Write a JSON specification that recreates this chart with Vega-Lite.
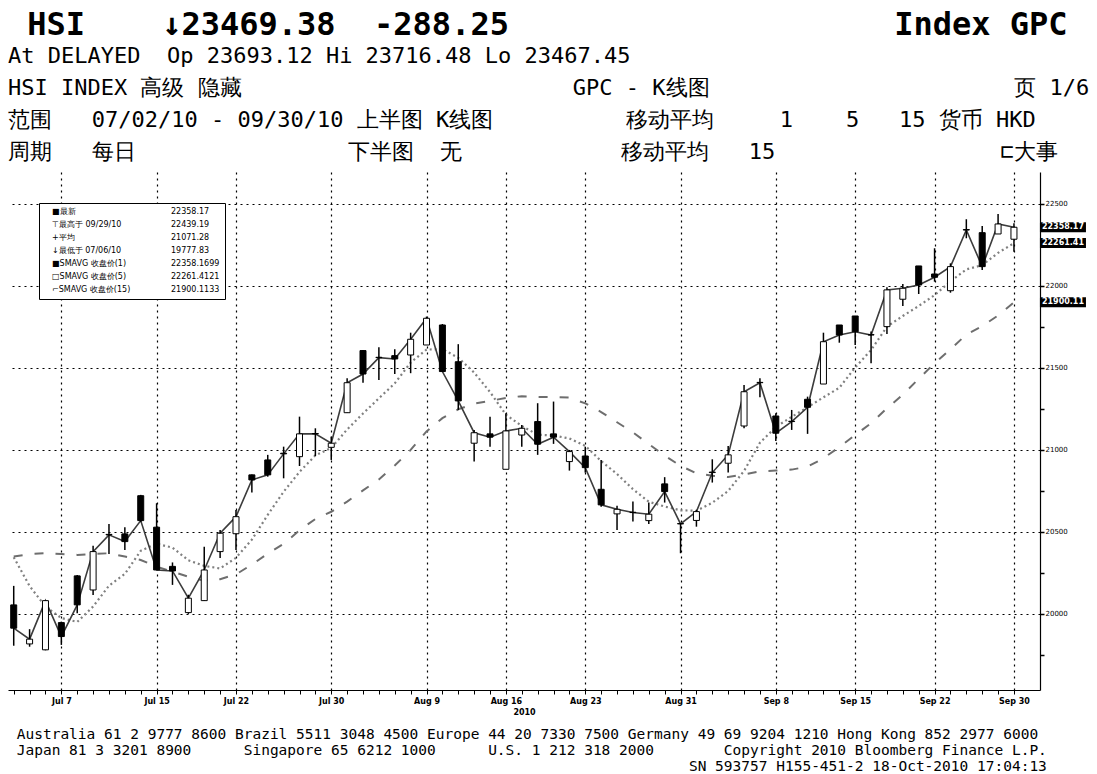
{
  "$schema": "https://vega.github.io/schema/vega-lite/v6.json",
  "padding": {"left": 8, "top": 9, "right": 0, "bottom": 0},
  "background": "white",
  "config": {"view": {"stroke": null}, "font": "DejaVu Sans Mono"},
  "datasets": {
    "hsi": [
      {"date":"Jul 2","open":20055,"high":20171,"low":19806,"close":19913,"ma5":20346,"ma15":20350},
      {"date":"Jul 5","open":19817,"high":19907,"low":19800,"close":19846,"ma5":20170,"ma15":20365},
      {"date":"Jul 6","open":19781,"high":20085,"low":19778,"close":20081,"ma5":20045,"ma15":20370},
      {"date":"Jul 7","open":19947,"high":19953,"low":19811,"close":19862,"ma5":19975,"ma15":20365},
      {"date":"Jul 8","open":20232,"high":20238,"low":20004,"close":20055,"ma5":19951,"ma15":20360},
      {"date":"Jul 9","open":20146,"high":20415,"low":20116,"close":20380,"ma5":20045,"ma15":20365},
      {"date":"Jul 12","open":20485,"high":20549,"low":20366,"close":20482,"ma5":20172,"ma15":20370},
      {"date":"Jul 13","open":20488,"high":20529,"low":20390,"close":20441,"ma5":20244,"ma15":20350},
      {"date":"Jul 14","open":20721,"high":20726,"low":20561,"close":20569,"ma5":20385,"ma15":20329},
      {"date":"Jul 15","open":20529,"high":20675,"low":20268,"close":20268,"ma5":20428,"ma15":20288},
      {"date":"Jul 16","open":20290,"high":20314,"low":20177,"close":20262,"ma5":20404,"ma15":20258},
      {"date":"Jul 19","open":20008,"high":20117,"low":20000,"close":20096,"ma5":20327,"ma15":20227},
      {"date":"Jul 20","open":20081,"high":20410,"low":20079,"close":20268,"ma5":20293,"ma15":20203},
      {"date":"Jul 21","open":20380,"high":20512,"low":20341,"close":20492,"ma5":20277,"ma15":20212},
      {"date":"Jul 22","open":20489,"high":20634,"low":20390,"close":20593,"ma5":20342,"ma15":20241},
      {"date":"Jul 23","open":20848,"high":20850,"low":20740,"close":20817,"ma5":20453,"ma15":20301},
      {"date":"Jul 26","open":20939,"high":20970,"low":20837,"close":20848,"ma5":20604,"ma15":20368},
      {"date":"Jul 27","open":20980,"high":21020,"low":20827,"close":20976,"ma5":20745,"ma15":20427},
      {"date":"Jul 28","open":20959,"high":21203,"low":20902,"close":21098,"ma5":20866,"ma15":20510},
      {"date":"Jul 29","open":21100,"high":21132,"low":20963,"close":21098,"ma5":20967,"ma15":20579},
      {"date":"Jul 30","open":21016,"high":21081,"low":20939,"close":21041,"ma5":21012,"ma15":20623},
      {"date":"Aug 2","open":21227,"high":21437,"low":21226,"close":21410,"ma5":21125,"ma15":20685},
      {"date":"Aug 3","open":21606,"high":21610,"low":21410,"close":21463,"ma5":21222,"ma15":20753},
      {"date":"Aug 4","open":21565,"high":21626,"low":21427,"close":21563,"ma5":21315,"ma15":20820},
      {"date":"Aug 5","open":21575,"high":21614,"low":21463,"close":21555,"ma5":21406,"ma15":20905},
      {"date":"Aug 6","open":21579,"high":21715,"low":21468,"close":21675,"ma5":21533,"ma15":21000},
      {"date":"Aug 9","open":21640,"high":21813,"low":21640,"close":21803,"ma5":21612,"ma15":21113},
      {"date":"Aug 10","open":21762,"high":21768,"low":21476,"close":21478,"ma5":21615,"ma15":21194},
      {"date":"Aug 11","open":21538,"high":21645,"low":21244,"close":21299,"ma5":21562,"ma15":21248},
      {"date":"Aug 12","open":21041,"high":21122,"low":20929,"close":21105,"ma5":21472,"ma15":21282},
      {"date":"Aug 13","open":21098,"high":21203,"low":21020,"close":21078,"ma5":21353,"ma15":21299},
      {"date":"Aug 16","open":20882,"high":21224,"low":20882,"close":21116,"ma5":21215,"ma15":21317},
      {"date":"Aug 17","open":21091,"high":21152,"low":21020,"close":21132,"ma5":21146,"ma15":21328},
      {"date":"Aug 18","open":21173,"high":21285,"low":20970,"close":21035,"ma5":21093,"ma15":21323},
      {"date":"Aug 19","open":21098,"high":21295,"low":21037,"close":21078,"ma5":21088,"ma15":21322},
      {"date":"Aug 20","open":20929,"high":21000,"low":20874,"close":20990,"ma5":21070,"ma15":21319},
      {"date":"Aug 23","open":20963,"high":21020,"low":20862,"close":20892,"ma5":21025,"ma15":21284},
      {"date":"Aug 24","open":20760,"high":20939,"low":20654,"close":20665,"ma5":20932,"ma15":21231},
      {"date":"Aug 25","open":20610,"high":20659,"low":20512,"close":20638,"ma5":20853,"ma15":21169},
      {"date":"Aug 26","open":20620,"high":20685,"low":20563,"close":20618,"ma5":20761,"ma15":21107},
      {"date":"Aug 27","open":20569,"high":20679,"low":20549,"close":20608,"ma5":20684,"ma15":21036},
      {"date":"Aug 30","open":20793,"high":20834,"low":20679,"close":20746,"ma5":20655,"ma15":20965},
      {"date":"Aug 31","open":20551,"high":20555,"low":20370,"close":20549,"ma5":20632,"ma15":20903},
      {"date":"Sep 1","open":20570,"high":20634,"low":20532,"close":20624,"ma5":20629,"ma15":20858},
      {"date":"Sep 2","open":20865,"high":20943,"low":20801,"close":20862,"ma5":20678,"ma15":20842},
      {"date":"Sep 3","open":20919,"high":21024,"low":20862,"close":20970,"ma5":20750,"ma15":20835},
      {"date":"Sep 6","open":21146,"high":21396,"low":21132,"close":21355,"ma5":20872,"ma15":20851},
      {"date":"Sep 7","open":21412,"high":21437,"low":21321,"close":21410,"ma5":21044,"ma15":20869},
      {"date":"Sep 8","open":21207,"high":21224,"low":21055,"close":21102,"ma5":21140,"ma15":20874},
      {"date":"Sep 9","open":21175,"high":21244,"low":21122,"close":21173,"ma5":21202,"ma15":20880},
      {"date":"Sep 10","open":21309,"high":21325,"low":21098,"close":21260,"ma5":21260,"ma15":20898},
      {"date":"Sep 13","open":21402,"high":21715,"low":21402,"close":21660,"ma5":21321,"ma15":20949},
      {"date":"Sep 14","open":21762,"high":21762,"low":21654,"close":21701,"ma5":21379,"ma15":21018},
      {"date":"Sep 15","open":21817,"high":21817,"low":21640,"close":21721,"ma5":21503,"ma15":21091},
      {"date":"Sep 16","open":21703,"high":21722,"low":21529,"close":21701,"ma5":21609,"ma15":21163},
      {"date":"Sep 17","open":21752,"high":21992,"low":21707,"close":21976,"ma5":21752,"ma15":21254},
      {"date":"Sep 20","open":21919,"high":22012,"low":21878,"close":21986,"ma5":21817,"ma15":21337},
      {"date":"Sep 21","open":22122,"high":22122,"low":21951,"close":22006,"ma5":21878,"ma15":21434},
      {"date":"Sep 22","open":22073,"high":22230,"low":22026,"close":22053,"ma5":21944,"ma15":21529},
      {"date":"Sep 24","open":21971,"high":22138,"low":21959,"close":22118,"ma5":22028,"ma15":21613},
      {"date":"Sep 27","open":22344,"high":22407,"low":22291,"close":22341,"ma5":22101,"ma15":21704},
      {"date":"Sep 28","open":22325,"high":22366,"low":22098,"close":22118,"ma5":22127,"ma15":21755},
      {"date":"Sep 29","open":22317,"high":22439,"low":22317,"close":22378,"ma5":22202,"ma15":21820},
      {"date":"Sep 30","open":22285,"high":22382,"low":22209,"close":22358,"ma5":22261,"ma15":21900}
    ],
    "legendRows": [
      {"entry": "■最新"},
      {"entry": "⊤最高于 09/29/10"},
      {"entry": "+平均"},
      {"entry": "↓最低于 07/06/10"},
      {"entry": "■SMAVG 收盘价(1)"},
      {"entry": "□SMAVG 收盘价(5)"},
      {"entry": "⌐SMAVG 收盘价(15)"},
      {"entry": "22358.17"},
      {"entry": "22439.19"},
      {"entry": "21071.28"},
      {"entry": "19777.83"},
      {"entry": "22358.1699"},
      {"entry": "22261.4121"},
      {"entry": "21900.1133"}
    ],
    "tags": [
      {"tag": "22358.17", "value": 22358.17},
      {"tag": "22261.41", "value": 22261.41},
      {"tag": "21900.11", "value": 21900.11}
    ]
  },
  "title": {
    "text": [
      "\u200b\u00a0Australia 61 2 9777 8600 Brazil 5511 3048 4500 Europe 44 20 7330 7500 Germany 49 69 9204 1210 Hong Kong 852 2977 6000",
      "\u200b\u00a0Japan 81 3 3201 8900\u00a0\u00a0\u00a0\u00a0\u00a0\u00a0Singapore 65 6212 1000\u00a0\u00a0\u00a0\u00a0\u00a0\u00a0U.S. 1 212 318 2000\u00a0\u00a0\u00a0\u00a0\u00a0\u00a0\u00a0\u00a0Copyright 2010 Bloomberg Finance L.P.",
      "\u200b\u00a0\u00a0\u00a0\u00a0\u00a0\u00a0\u00a0\u00a0\u00a0\u00a0\u00a0\u00a0\u00a0\u00a0\u00a0\u00a0\u00a0\u00a0\u00a0\u00a0\u00a0\u00a0\u00a0\u00a0\u00a0\u00a0\u00a0\u00a0\u00a0\u00a0\u00a0\u00a0\u00a0\u00a0\u00a0\u00a0\u00a0\u00a0\u00a0\u00a0\u00a0\u00a0\u00a0\u00a0\u00a0\u00a0\u00a0\u00a0\u00a0\u00a0\u00a0\u00a0\u00a0\u00a0\u00a0\u00a0\u00a0\u00a0\u00a0\u00a0\u00a0\u00a0\u00a0\u00a0\u00a0\u00a0\u00a0\u00a0\u00a0\u00a0\u00a0\u00a0\u00a0\u00a0\u00a0\u00a0\u00a0\u00a0SN 593757 H155-451-2 18-Oct-2010 17:04:13"
    ],
    "orient": "bottom",
    "anchor": "start",
    "font": "DejaVu Sans Mono",
    "fontSize": 14.5,
    "fontWeight": "normal",
    "lineHeight": 16,
    "offset": 12,
    "color": "black"
  },
  "vconcat": [
    {
      "width": 1032,
      "height": 518,
      "title": {
        "text": "\u200b\u00a0HSI\u00a0\u00a0\u00a0\u00a0↓23469.38\u00a0\u00a0-288.25\u00a0\u00a0\u00a0\u00a0\u00a0\u00a0\u00a0\u00a0\u00a0\u00a0\u00a0\u00a0\u00a0\u00a0\u00a0\u00a0\u00a0\u00a0\u00a0\u00a0Index GPC",
        "subtitle": [
          "\u200bAt DELAYED\u00a0\u00a0Op 23693.12 Hi 23716.48 Lo 23467.45",
          "HSI INDEX\u00a0高级\u00a0隐藏\u00a0\u00a0\u00a0\u00a0\u00a0\u00a0\u00a0\u00a0\u00a0\u00a0\u00a0\u00a0\u00a0\u00a0\u00a0\u00a0\u00a0\u00a0\u00a0\u00a0\u00a0\u00a0\u00a0\u00a0\u00a0GPC - K线图\u00a0\u00a0\u00a0\u00a0\u00a0\u00a0\u00a0\u00a0\u00a0\u00a0\u00a0\u00a0\u00a0\u00a0\u00a0\u00a0\u00a0\u00a0\u00a0\u00a0\u00a0\u00a0\u00a0页 1/6",
          "范围\u00a0\u00a0\u00a007/02/10\u00a0-\u00a009/30/10\u00a0上半图\u00a0K线图\u00a0\u00a0\u00a0\u00a0\u00a0\u00a0\u00a0\u00a0\u00a0\u00a0移动平均\u00a0\u00a0\u00a0\u00a0\u00a01\u00a0\u00a0\u00a0\u00a05\u00a0\u00a0\u00a015\u00a0货币\u00a0HKD",
          "周期\u00a0\u00a0\u00a0每日\u00a0\u00a0\u00a0\u00a0\u00a0\u00a0\u00a0\u00a0\u00a0\u00a0\u00a0\u00a0\u00a0\u00a0\u00a0\u00a0下半图\u00a0\u00a0无\u00a0\u00a0\u00a0\u00a0\u00a0\u00a0\u00a0\u00a0\u00a0\u00a0\u00a0\u00a0移动平均\u00a0\u00a0\u00a015\u00a0\u00a0\u00a0\u00a0\u00a0\u00a0\u00a0\u00a0\u00a0\u00a0\u00a0\u00a0\u00a0\u00a0\u00a0\u00a0\u00a0⊏大事"
        ],
        "anchor": "start",
        "font": "DejaVu Sans Mono",
        "fontSize": 32,
        "fontWeight": "bold",
        "color": "black",
        "subtitleFont": "DejaVu Sans Mono",
        "subtitleFontSize": 22,
        "subtitleFontWeight": "normal",
        "subtitleColor": "black",
        "subtitleLineHeight": 32,
        "subtitlePadding": 4,
        "offset": 8
      },
      "layer": [
        {
          "data": {"name": "hsi"},
          "mark": {"type": "line", "color": "#6e6e6e", "strokeWidth": 2, "strokeDash": [9, 12]},
          "encoding": {
            "x": {
              "field": "date", "type": "ordinal", "sort": null,
              "scale": {"type": "point", "padding": 1.04, "align": 0.18},
              "axis": {
                "title": "2010",
                "titleFont": "DejaVu Sans", "titleFontSize": 8, "titleFontWeight": "bold", "titlePadding": 3,
                "labelExpr": "indexof(['Jul 7','Jul 15','Jul 22','Jul 30','Aug 9','Aug 16','Aug 23','Aug 31','Sep 8','Sep 15','Sep 22','Sep 30'], datum.value) >= 0 ? datum.value : ''",
                "labelFont": "DejaVu Sans", "labelFontSize": 8, "labelFontWeight": "bold", "labelAngle": 0, "labelPadding": 3, "labelOverlap": false, "labelColor": "black",
                "domainColor": "black", "domainWidth": 1.2,
                "tickColor": "black", "tickSize": 4, "tickWidth": 1,
                "grid": true, "gridColor": "black", "gridDash": [2, 4], "gridWidth": 1.2,
                "gridOpacity": {"condition": {"test": "indexof(['Jul 7','Jul 15','Jul 22','Jul 30','Aug 9','Aug 16','Aug 23','Aug 31','Sep 8','Sep 15','Sep 22','Sep 30'], datum.value) >= 0", "value": 1}, "value": 0}
              }
            },
            "y": {
              "field": "ma15", "type": "quantitative",
              "scale": {"domain": [19536, 22695], "nice": false, "zero": false},
              "axis": {
                "orient": "right", "title": null,
                "values": [19750, 20000, 20250, 20500, 20750, 21000, 21250, 21500, 21750, 22000, 22250, 22500],
                "format": "d",
                "labelExpr": "datum.value % 500 === 0 ? datum.label : ''",
                "labelFont": "DejaVu Sans", "labelFontSize": 7, "labelPadding": 1, "labelColor": "black",
                "domainColor": "black", "domainWidth": 1.2,
                "tickColor": "black", "tickSize": 4, "tickWidth": 1.5,
                "grid": true, "gridColor": "black", "gridDash": [2, 4], "gridWidth": 1.2,
                "gridOpacity": {"condition": {"test": "datum.value % 500 === 0", "value": 1}, "value": 0}
              }
            }
          }
        },
        {
          "data": {"name": "hsi"},
          "mark": {"type": "line", "color": "#808080", "strokeWidth": 2.2, "strokeDash": [2, 3]},
          "encoding": {
            "x": {"field": "date", "type": "ordinal", "sort": null},
            "y": {"field": "ma5", "type": "quantitative"}
          }
        },
        {
          "data": {"name": "hsi"},
          "mark": {"type": "line", "color": "#3c3c3c", "strokeWidth": 1.6},
          "encoding": {
            "x": {"field": "date", "type": "ordinal", "sort": null},
            "y": {"field": "close", "type": "quantitative"}
          }
        },
        {
          "data": {"name": "hsi"},
          "mark": {"type": "rule", "color": "black", "strokeWidth": 1.5},
          "encoding": {
            "x": {"field": "date", "type": "ordinal", "sort": null},
            "y": {"field": "low", "type": "quantitative"},
            "y2": {"field": "high"}
          }
        },
        {
          "data": {"name": "hsi"},
          "mark": {"type": "bar", "size": 6, "stroke": "black", "strokeWidth": 1},
          "encoding": {
            "x": {"field": "date", "type": "ordinal", "sort": null},
            "y": {"field": "open", "type": "quantitative"},
            "y2": {"field": "close"},
            "fill": {"condition": {"test": "datum.open > datum.close", "value": "black"}, "value": "white"}
          }
        },
        {
          "data": {"name": "tags"},
          "mark": {"type": "tick", "color": "black", "size": 46, "thickness": 10, "xOffset": 49, "opacity": 1},
          "encoding": {
            "x": {"datum": "Sep 30", "type": "ordinal"},
            "y": {"field": "value", "type": "quantitative"}
          }
        },
        {
          "data": {"name": "tags"},
          "mark": {"type": "text", "color": "white", "font": "DejaVu Sans", "fontSize": 8, "fontWeight": "bold", "dx": 49},
          "encoding": {
            "x": {"datum": "Sep 30", "type": "ordinal"},
            "y": {"field": "value", "type": "quantitative"},
            "text": {"field": "tag"}
          }
        },
        {
          "data": {"name": "legendRows"},
          "mark": {"type": "point", "opacity": 0},
          "encoding": {
            "shape": {
              "field": "entry", "type": "nominal", "sort": null,
              "legend": {
                "title": null, "orient": "top-left", "offset": 31,
                "columns": 2, "gridAlign": "each", "columnPadding": 32, "rowPadding": 5,
                "strokeColor": "black", "fillColor": "white", "padding": 5,
                "labelFont": "DejaVu Sans", "labelFontSize": 8, "labelColor": "black", "labelLimit": 300,
                "symbolSize": 0, "symbolOpacity": 0, "symbolStrokeWidth": 0, "labelOffset": 0
              }
            }
          }
        }
      ]
    }
  ]
}
